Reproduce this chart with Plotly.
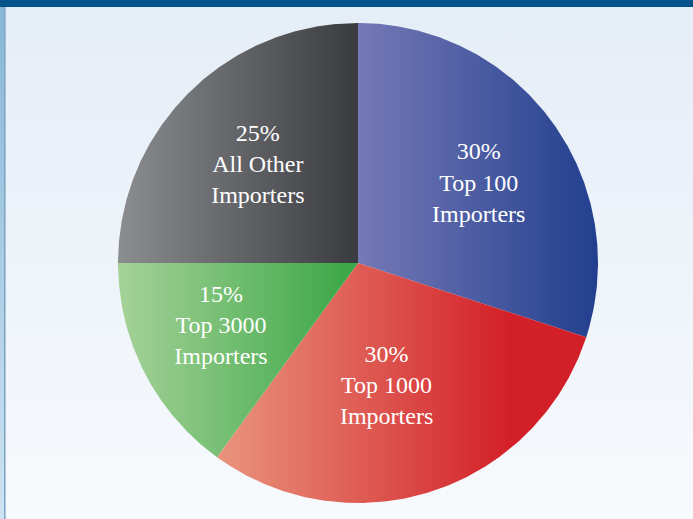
import numpy as np
import plotly.graph_objects as go

# ---- data ----
labels = ["Top 100<br>Importers", "Top 1000<br>Importers", "Top 3000<br>Importers", "All Other<br>Importers"]
values = [30, 30, 15, 25]
color_left = ["#7579b6", "#e9957d", "#a6d298", "#8b8d91"]
color_right = ["#223f8e", "#d31f27", "#38a644", "#3a3b3f"]
grad_stop = [1.0, 0.8, 1.0, 1.0]
label_r = [0.6, 0.53, 0.63, 0.58]
label_da = [3, 5, 2, -1]

W, H = 693, 519
CX, CY, R = 358, 263, 240

fig = go.Figure()

# background panel (vertical gradient)
fig.add_trace(go.Scatter(
    x=[5, W, W, 5, 5], y=[7, 7, H, H, 7], mode="lines", line=dict(width=0),
    fill="toself",
    fillgradient=dict(type="vertical", colorscale=[[0, "#f7fafd"], [1, "#e5edf6"]]),
    hoverinfo="skip", showlegend=False))
# left strip
fig.add_trace(go.Scatter(
    x=[0, 4, 4, 0, 0], y=[7, 7, H, H, 7], mode="lines", line=dict(width=0),
    fill="toself",
    fillgradient=dict(type="vertical", colorscale=[[0, "#cde3f2"], [1, "#88b6d7"]]),
    hoverinfo="skip", showlegend=False))
fig.add_trace(go.Scatter(
    x=[4.8, 4.8], y=[7, H], mode="lines", line=dict(width=1.6, color="#7ea7c7"),
    hoverinfo="skip", showlegend=False))

total = sum(values)
start = 0.0
text_x, text_y, text_s = [], [], []
for i, (lab, v, cl, cr) in enumerate(zip(labels, values, color_left, color_right)):
    span = 360.0 * v / total
    th = np.radians(np.linspace(start, start + span, 200))
    xs = np.concatenate([[CX], CX + R * np.sin(th), [CX]])
    ys = np.concatenate([[CY], CY - R * np.cos(th), [CY]])
    cs = [[0, cl], [grad_stop[i], cr]]
    if grad_stop[i] < 1:
        cs.append([1, cr])
    fig.add_trace(go.Scatter(
        x=xs, y=ys, mode="lines", line=dict(width=0), fill="toself",
        fillgradient=dict(type="horizontal", colorscale=cs),
        hoverinfo="skip", showlegend=False))
    mid = np.radians(start + span / 2 + label_da[i])
    text_x.append(CX + label_r[i] * R * np.sin(mid))
    text_y.append(CY - label_r[i] * R * np.cos(mid))
    text_s.append(f"{v}%<br>{lab}")
    start += span

fig.add_trace(go.Scatter(
    x=text_x, y=text_y, mode="text", text=text_s, textposition="middle center",
    textfont=dict(family="Liberation Serif", size=24, color="white"),
    hoverinfo="skip", showlegend=False))

fig.update_layout(
    width=W, height=H, margin=dict(l=0, r=0, t=0, b=0),
    paper_bgcolor="#f2f6fb", plot_bgcolor="rgba(0,0,0,0)",
    xaxis=dict(range=[0, W], visible=False, fixedrange=True),
    yaxis=dict(range=[H, 0], visible=False, fixedrange=True),
    shapes=[dict(type="rect", xref="x", yref="y", x0=0, x1=W, y0=0, y1=7,
                 fillcolor="#02548a", line=dict(width=0), layer="above")],
)

fig.write_html("out.html", config={"displayModeBar": False})
with open("out.html", encoding="utf-8") as f:
    html = f.read()
html = html.replace("<body>", '<body style="margin:0;padding:0;overflow:hidden">', 1)
with open("out.html", "w", encoding="utf-8") as f:
    f.write(html)
